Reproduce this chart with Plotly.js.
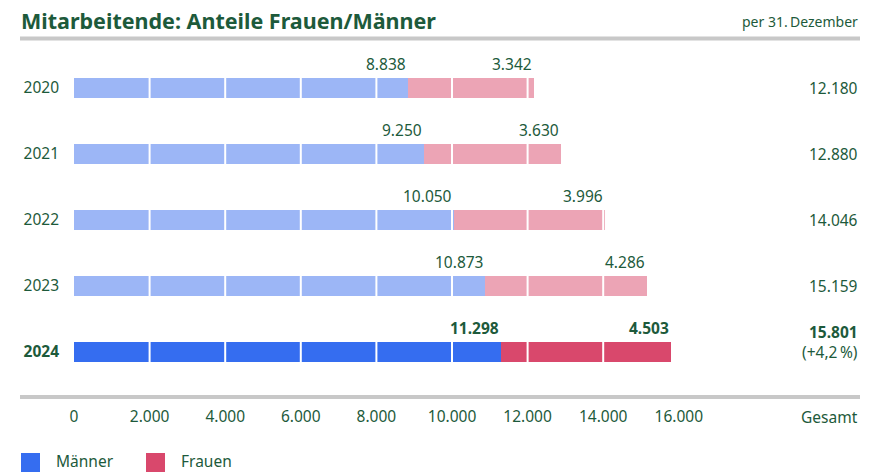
<!DOCTYPE html>
<html><head><meta charset="utf-8">
<script src="https://cdn.plot.ly/plotly-3.0.1.min.js"></script>
<style>html,body{margin:0;padding:0;background:#fff}#chart{width:872px;height:472px}</style>
</head><body><div id="chart"></div>
<script>
const years = ['2020','2021','2022','2023','2024'];
const maenner = [8838, 9250, 10050, 10873, 11298];
const frauen = [3342, 3630, 3996, 4286, 4503];
const gesamt = [12180, 12880, 14046, 15159, 15801];
const changeLabel = '(+4,2\u202f%)';
const tickVals = [0,2000,4000,6000,8000,10000,12000,14000,16000];

const green = '#1d5a3b';
const font = 'Noto Sans, Open Sans, sans-serif';
const FS = 15.5;
const lastIdx = years.length - 1;
const mColors = years.map((y,i)=> i===lastIdx ? '#356df0' : '#9cb6f6');
const fColors = years.map((y,i)=> i===lastIdx ? '#d9486c' : '#eca4b5');
const fmt = v => v.toString().replace(/\B(?=(\d{3})+(?!\d))/g, '.');

const traces = [
  {type:'bar', orientation:'h', name:'Männer', y:years, x:maenner, marker:{color:mColors}, width:0.3, hoverinfo:'skip'},
  {type:'bar', orientation:'h', name:'Frauen', y:years, x:frauen, marker:{color:fColors}, width:0.3, hoverinfo:'skip'}
];

const W=872,H=472,L=74,R=12,T=55,B=87;
const pw=W-L-R, ph=H-T-B;
const px = x => (x-L)/pw;
const py = y => 1-(y-T)/ph;

const annotations = [];
const af = () => ({size:FS, color:green, family:font});
years.forEach((y,i)=>{
  const b = i===lastIdx;
  annotations.push({x:maenner[i], y:i, xref:'x', yref:'y', text: b?'<b>'+fmt(maenner[i])+'</b>':fmt(maenner[i]), showarrow:false, xanchor:'right', yanchor:'middle', yshift:24, font:af()});
  annotations.push({x:maenner[i]+frauen[i], y:i, xref:'x', yref:'y', text: b?'<b>'+fmt(frauen[i])+'</b>':fmt(frauen[i]), showarrow:false, xanchor:'right', yanchor:'middle', yshift:24, font:af()});
  if (b) {
    annotations.push({x:1, y:i, xref:'paper', yref:'y', text:'<b>'+fmt(gesamt[i])+'</b>', showarrow:false, xanchor:'right', yanchor:'middle', yshift:20, font:af()});
    annotations.push({x:1, y:i, xref:'paper', yref:'y', text:changeLabel, showarrow:false, xanchor:'right', yanchor:'middle', yshift:0, font:af()});
  } else {
    annotations.push({x:1, y:i, xref:'paper', yref:'y', text:fmt(gesamt[i]), showarrow:false, xanchor:'right', yanchor:'middle', font:af()});
  }
});
annotations.push({x:px(19), y:py(20), xref:'paper', yref:'paper', text:'<b>Mitarbeitende: Anteile Frauen/Männer</b>', showarrow:false, xanchor:'left', yanchor:'middle', font:{size:21.5, color:green, family:font}});
annotations.push({x:1, y:py(21), xref:'paper', yref:'paper', text:'per 31.\u2009Dezember', showarrow:false, xanchor:'right', yanchor:'middle', font:{size:14, color:green, family:font}});
annotations.push({x:1, y:py(417), xref:'paper', yref:'paper', text:'Gesamt', showarrow:false, xanchor:'right', yanchor:'middle', font:af()});
annotations.push({x:px(54), y:py(461), xref:'paper', yref:'paper', text:'Männer', showarrow:false, xanchor:'left', yanchor:'middle', font:af()});
annotations.push({x:px(179), y:py(461), xref:'paper', yref:'paper', text:'Frauen', showarrow:false, xanchor:'left', yanchor:'middle', font:af()});

const shapes = [
  {type:'line', xref:'paper', yref:'paper', x0:px(20), x1:1, y0:py(38.5), y1:py(38.5), line:{color:'#c8c8c8', width:4}},
  {type:'line', xref:'paper', yref:'paper', x0:px(20), x1:1, y0:py(397), y1:py(397), line:{color:'#c8c8c8', width:4}},
  {type:'rect', xref:'paper', yref:'paper', x0:px(21), x1:px(40), y0:py(453), y1:py(473), fillcolor:'#356df0', line:{width:0}},
  {type:'rect', xref:'paper', yref:'paper', x0:px(146), x1:px(165), y0:py(453), y1:py(473), fillcolor:'#d9486c', line:{width:0}}
];
tickVals.slice(1).forEach(v=>{
  shapes.push({type:'line', xref:'x', yref:'paper', x0:v, x1:v, y0:0, y1:1, layer:'above', line:{color:'#ffffff', width:2}});
});

const layout = {
  width:W, height:H, margin:{l:L, r:R, t:T, b:B},
  barmode:'stack', showlegend:false, separators:',.',
  paper_bgcolor:'#fff', plot_bgcolor:'#fff',
  font:{family:font, color:green, size:FS},
  xaxis:{range:[0, pw*2000/75.6], autorange:false, tickvals:tickVals, ticktext:tickVals.map(fmt), showgrid:false, zeroline:false, showline:false, ticks:'', ticklabelstandoff:20, fixedrange:true, tickfont:{size:FS, color:green}},
  yaxis:{type:'category', categoryorder:'array', categoryarray:years, range:[4.5,-0.5], autorange:false, tickvals:years, ticktext:years.map((y,i)=> i===lastIdx?'<b>'+y+'</b>':y), showgrid:false, zeroline:false, ticks:'', ticklabelstandoff:14, tickfont:{size:FS, color:green}},
  annotations:annotations, shapes:shapes
};
Plotly.newPlot('chart', traces, layout, {displayModeBar:false, staticPlot:true});
</script></body></html>
